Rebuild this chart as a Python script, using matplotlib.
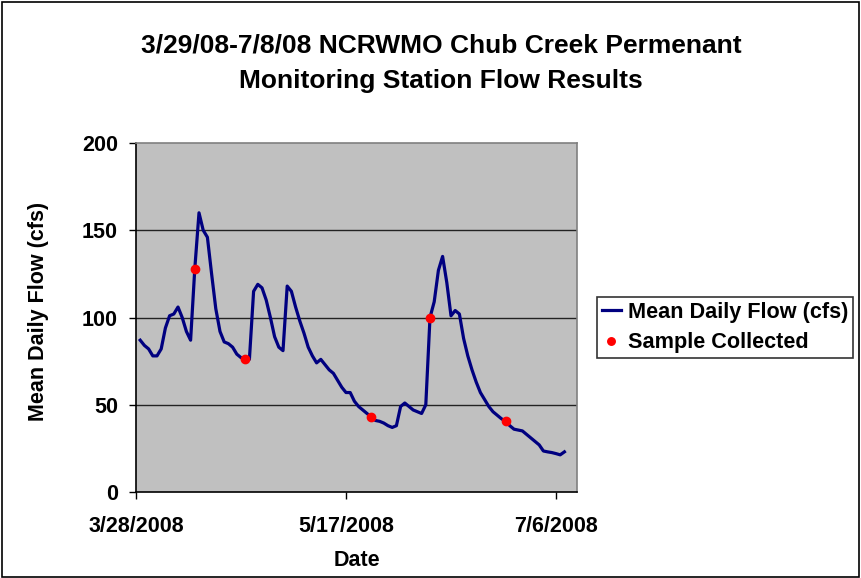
import numpy as np
import matplotlib
matplotlib.use("Agg")
import matplotlib.pyplot as plt
from matplotlib.patches import Rectangle

# daily mean flow, 3/29/2008 - 7/8/2008
flow = [87, 84, 82, 78, 78, 82, 94, 101, 102, 106,
        100, 92, 87, 128, 160, 150, 146, 125, 105, 92,
        86, 85, 83, 79, 77, 76, 76, 115, 119, 117,
        110, 100, 89, 83, 81, 118, 115, 106, 98, 91,
        83, 78, 74, 76, 73, 70, 68, 64, 60, 57,
        57, 52, 49, 47, 45, 43, 41, 40.5, 39.5, 38,
        37, 38, 49, 51, 49, 47, 46, 45, 50, 100,
        109, 127, 135, 120, 101, 104, 102, 88, 78, 70,
        63, 57, 53, 49, 46, 44, 42, 40.5, 38, 36,
        35.5, 35, 33, 31, 29, 27, 23.5, 23, 22.6, 22,
        21.3, 23]
flow_dates = np.arange(np.datetime64("2008-03-29"), np.datetime64("2008-03-29") + len(flow))

sample_dates = np.array(["2008-04-11", "2008-04-23", "2008-05-23", "2008-06-06", "2008-06-24"],
                        dtype="datetime64[D]")
sample_flow = [128, 76, 43, 100, 40.5]

tick_dates = np.array(["2008-03-28", "2008-05-17", "2008-07-06"], dtype="datetime64[D]")
tick_labels = ["3/28/2008", "5/17/2008", "7/6/2008"]
yticks = [0, 50, 100, 150, 200]

plt.rcParams['font.family'] = ['Liberation Sans', 'DejaVu Sans']
plt.rcParams['font.weight'] = 'bold'

fig = plt.figure(figsize=(8.62, 5.78), dpi=100)
fig.patches.append(Rectangle((0.002, 0.002), 0.994, 0.995, transform=fig.transFigure,
                             fill=False, edgecolor="black", linewidth=1.2, zorder=0))

ax = fig.add_axes([136 / 862, 1 - 492 / 578, (577 - 136) / 862, (492 - 143) / 578])
ax.set_facecolor("#C0C0C0")

ax.plot(flow_dates, flow, color="#000080", linewidth=2.3, label="Mean Daily Flow (cfs)", zorder=3)
ax.plot(sample_dates, sample_flow, linestyle="none", marker="o", markersize=6,
        color="#FF0000", label="Sample Collected", zorder=4)

ax.set_xlim(np.datetime64("2008-03-28"), np.datetime64("2008-07-11"))
ax.set_ylim(0, 200)
ax.set_xticks(tick_dates)
ax.set_xticklabels(tick_labels, fontsize=15.5, fontweight="bold")
ax.set_yticks(yticks)
ax.set_yticklabels([str(v) for v in yticks], fontsize=15.5, fontweight="bold")
ax.tick_params(axis="both", direction="out", length=5, width=1, color="black", pad=8)
ax.tick_params(axis="x", pad=12)

for v in yticks[1:-1]:
    ax.axhline(v, color="#222222", linewidth=1, zorder=1)

for side in ["top", "right"]:
    ax.spines[side].set_color("#808080")
    ax.spines[side].set_linewidth(1.2)
for side in ["left", "bottom"]:
    ax.spines[side].set_color("black")
    ax.spines[side].set_linewidth(1.2)

ax.set_xlabel("Date", fontsize=15.5, fontweight="bold", labelpad=10)
ax.set_ylabel("Mean Daily Flow (cfs)", fontsize=15.5, fontweight="bold")
ax.yaxis.set_label_coords(-0.198, 0.517)

fig.text(441 / 862, 1 - 63 / 578, "3/29/08-7/8/08 NCRWMO Chub Creek Permenant\nMonitoring Station Flow Results",
         ha="center", va="center", fontsize=19, fontweight="bold", linespacing=1.62)

leg = ax.legend(loc="center left", bbox_to_anchor=(1.045, 0.471), fontsize=15.6, frameon=True,
                fancybox=False, edgecolor="black", handlelength=0.9, handletextpad=0.3,
                borderpad=0.22, labelspacing=0.42, markerscale=0.9, borderaxespad=0)
leg.get_frame().set_linewidth(1.2)
for t in leg.get_texts():
    t.set_fontweight("bold")

fig.savefig("out.png", dpi=100)
